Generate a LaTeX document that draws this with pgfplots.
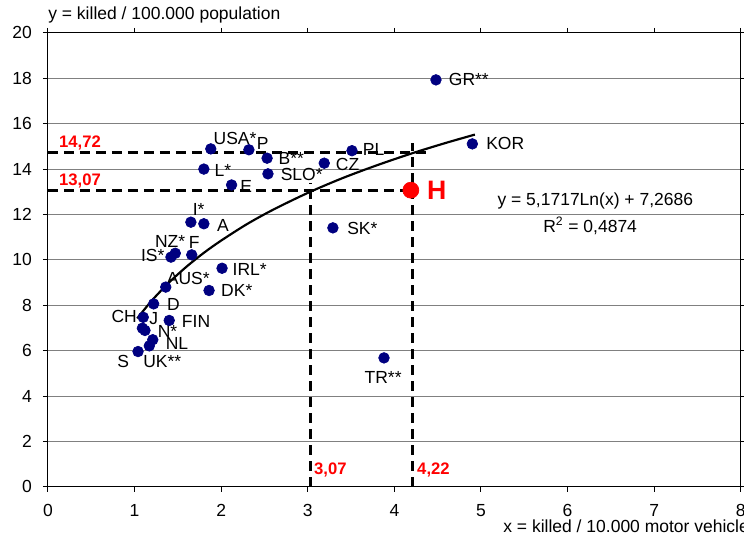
\documentclass[border=0pt]{standalone}
\usepackage{fontspec}
\setmainfont{Liberation Sans}
\usepackage{pgfplots}
\pgfplotsset{compat=1.18}
\definecolor{navy}{RGB}{0,0,128}
\definecolor{xlred}{RGB}{255,0,0}
\definecolor{gridgray}{RGB}{128,128,128}
\tikzset{
  label node/.style={inner sep=0pt, font=\fontsize{10.5}{12}\selectfont},
  red label/.style={inner sep=0pt, text=xlred, font=\fontsize{10}{12}\selectfont\bfseries},
}

\begin{document}
\fontsize{10.5}{12.6}\selectfont
\begin{tikzpicture}
\begin{axis}[
    width=415.8pt, height=272.4pt, scale only axis,
    xmin=0, xmax=8, ymin=0, ymax=20,
    xtick={0,1,...,8}, ytick={0,2,...,20},
    tick align=outside, major tick length=3pt,
    ymajorgrids=true,
    grid style={gridgray, line width=0.6pt},
    axis line style={black, line width=0.6pt},
    tick style={black, line width=0.6pt},
    /pgf/number format/assume math mode=true,
    ticklabel style={font=\fontsize{10.5}{12}\selectfont},
    xticklabel style={yshift=-4pt},
    yticklabel style={xshift=-3pt},
    clip=false,
]
% helper lines (dashed)
\addplot[black, line width=1.8pt, dash pattern=on 6pt off 3.6pt] coordinates {(0,14.72) (4.41,14.72)};
\addplot[black, line width=1.8pt, dash pattern=on 6pt off 3.6pt] coordinates {(0,13.07) (4.15,13.07)};
\addplot[black, line width=1.8pt, dash pattern=on 6pt off 3.6pt] coordinates {(3.03,0) (3.03,13.4)};
\addplot[black, line width=1.8pt, dash pattern=on 6pt off 3.6pt] coordinates {(4.21,0) (4.21,15.15)};

% logarithmic trendline y = 5,1717 ln(x) + 7,2686
\addplot[black, line width=1.3pt, smooth] coordinates {
  (1.03,7.42) (1.2,8.21) (1.4,9.01) (1.6,9.70) (1.8,10.31) (2.0,10.85)
  (2.3,11.58) (2.6,12.21) (3.0,12.95) (3.4,13.60) (3.8,14.17) (4.2,14.69)
  (4.6,15.16) (4.93,15.52)
};

% countries
\addplot[only marks, mark=*, mark size=3.2pt, color=navy] coordinates {
  (4.48,17.93) (4.90,15.11) (3.51,14.81) (3.19,14.26) (1.88,14.89)
  (2.32,14.85) (2.53,14.48) (2.54,13.79) (1.80,14.00) (2.12,13.30)
  (1.65,11.66) (1.80,11.59) (1.47,10.29) (1.42,10.12) (1.66,10.22)
  (2.01,9.63) (1.36,8.80) (1.86,8.65) (1.22,8.06) (1.10,7.47)
  (1.40,7.33) (1.09,6.99) (1.12,6.89) (1.21,6.48) (1.17,6.21)
  (1.04,5.96) (3.29,11.41) (3.88,5.68)
};

% H
\addplot[only marks, mark=*, mark size=4.8pt, color=xlred] coordinates {(4.19,13.07)};
\node[inner sep=0pt, text=xlred, font=\fontsize{16}{18}\selectfont\bfseries] at (axis cs:4.49,13.08) {H};

\node[label node] at (axis cs:4.86,17.93) {GR**};
\node[label node] at (axis cs:5.28,15.11) {KOR};
\node[label node] at (axis cs:3.76,14.85) {PL};
\node[label node] at (axis cs:3.46,14.19) {CZ};
\node[label node] at (axis cs:2.16,15.37) {USA*};
\node[label node] at (axis cs:2.48,15.14) {P};
\node[label node] at (axis cs:2.81,14.45) {B**};
\node[label node] at (axis cs:2.93,13.74) {SLO*};
\node[label node] at (axis cs:2.02,13.96) {L*};
\node[label node] at (axis cs:2.29,13.23) {E};
\node[label node] at (axis cs:1.74,12.23) {I*};
\node[label node] at (axis cs:2.02,11.50) {A};
\node[label node] at (axis cs:1.41,10.81) {NZ*};
\node[label node] at (axis cs:1.69,10.76) {F};
\node[label node] at (axis cs:1.21,10.18) {IS*};
\node[label node] at (axis cs:2.33,9.59) {IRL*};
\node[label node] at (axis cs:1.62,9.19) {AUS*};
\node[label node] at (axis cs:2.18,8.63) {DK*};
\node[label node] at (axis cs:1.45,8.02) {D};
\node[label node] at (axis cs:0.88,7.50) {CH};
\node[label node] at (axis cs:1.22,7.43) {J};
\node[label node] at (axis cs:1.71,7.28) {FIN};
\node[label node] at (axis cs:1.38,6.84) {N*};
\node[label node] at (axis cs:1.49,6.33) {NL};
\node[label node] at (axis cs:0.87,5.52) {S};
\node[label node] at (axis cs:1.32,5.52) {UK**};
\node[label node] at (axis cs:3.63,11.37) {SK*};
\node[label node] at (axis cs:3.87,4.80) {TR**};

% value labels
\node[red label] at (axis cs:0.37,15.15) {14,72};
\node[red label] at (axis cs:0.37,13.48) {13,07};
\node[red label, anchor=west] at (axis cs:3.07,0.75) {3,07};
\node[red label, anchor=west] at (axis cs:4.26,0.75) {4,22};

% trendline equation
\node[label node] at (axis cs:6.32,12.59) {y = 5,1717Ln(x) + 7,2686};
\node[label node] at (axis cs:6.26,11.50) {R\textsuperscript{2} = 0,4874};

% axis titles
\node[label node, anchor=west] at (axis cs:0,20.79) {y = killed / 100.000 population};
\node[label node, anchor=west] at (axis cs:5.254,-1.76) {x = killed / 10.000 motor vehicles};

\coordinate (bbsw) at (axis cs:-0.554,-2.247);
\coordinate (bbne) at (axis cs:8.037,21.45);
\end{axis}
\pgfresetboundingbox
\path[use as bounding box] (bbsw) rectangle (bbne);
\end{tikzpicture}
\end{document}
